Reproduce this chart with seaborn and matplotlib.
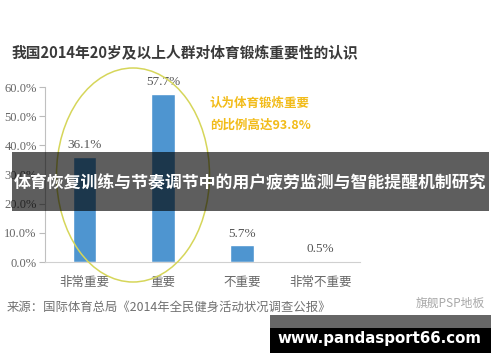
import matplotlib
matplotlib.use("Agg")
import matplotlib.pyplot as plt
import seaborn as sns
import pandas as pd
from matplotlib.patches import Ellipse, Rectangle

categories = ['非常重要', '重要', '不重要', '非常不重要']
values = [36.1, 57.7, 5.7, 0.5]
yticks = [0, 10, 20, 30, 40, 50, 60]
title = '我国2014年20岁及以上人群对体育锻炼重要性的认识'
note_lines = ['认为体育锻炼重要', '的比例高达93.8%']
banner = '体育恢复训练与节奏调节中的用户疲劳监测与智能提醒机制研究'
source = '来源：国际体育总局《2014年全民健身活动状况调查公报》'
watermark = '旗舰PSP地板'
site = 'www.pandasport66.com'

sns.set_style('white')
plt.rcParams['font.family'] = ['Noto Sans CJK SC', 'DejaVu Sans']

df = pd.DataFrame({'cat': categories, 'val': values})

fig = plt.figure(figsize=(5, 3.62), dpi=100)
fig.patch.set_facecolor('white')
ax = fig.add_axes([0.09, 0.2762, 0.63, 0.4834])
sns.barplot(data=df, x='cat', y='val', color='#4e95d0', saturation=1, width=0.3, ax=ax)
ax.set_ylim(0, 60)
ax.set_xlim(-0.5, 3.5)
ax.set_yticks(yticks)
ax.set_yticklabels([f'{v:.1f}%' for v in yticks], family=['Liberation Serif'], fontsize=9, color='#666666')
ax.set_xlabel('')
ax.set_ylabel('')
ax.tick_params(axis='x', length=0, pad=10, labelsize=9, labelcolor='#666666')
ax.tick_params(axis='y', left=True, length=4, width=0.8, color='#bbbbbb', pad=2)
for s in ['top', 'right']:
    ax.spines[s].set_visible(False)
ax.spines['left'].set_color('#c0c0c0')
ax.spines['bottom'].set_color('#d0d0d0')
ax.spines['left'].set_linewidth(0.8)
ax.spines['bottom'].set_linewidth(0.8)

for i, v in enumerate(values):
    ax.annotate(f'{v}%', (i, v), xytext=(0, 4), textcoords='offset points',
                ha='center', va='bottom', family=['Liberation Serif'], fontsize=9.5, color='#555555')

fig.text(0.024, 1 - 52 / 362, title, fontsize=10.6, weight='bold', color='#3a3a3a', va='center', ha='left')
fig.text(0.42, 1 - 103 / 362, note_lines[0], fontsize=9, weight='bold', color='#f2bc1a', va='center', ha='left')
fig.text(0.42, 1 - 125 / 362, note_lines[1], fontsize=9, weight='bold', color='#f2bc1a', va='center', ha='left')

fig.add_artist(Ellipse((133 / 500, 1 - 175 / 362), 153 / 500, 214 / 362, transform=fig.transFigure,
                       fill=False, edgecolor='#d6d65a', linewidth=1.1, zorder=3))

fig.add_artist(Rectangle((12 / 500, 1 - 211 / 362), 477 / 500, 59 / 362, transform=fig.transFigure,
                         facecolor='black', alpha=0.63, edgecolor='none', zorder=5))
fig.text(0.5, 1 - 183 / 362, banner, fontsize=12.2, weight='bold', color='white', ha='center', va='center', zorder=6)

fig.text(7 / 500, 1 - 307 / 362, source, fontsize=8.9, color='#707070', ha='left', va='center')
fig.text(485 / 500, 1 - 303 / 362, watermark, fontsize=8.5, color='#a8a8a8', ha='right', va='center')

fig.add_artist(Rectangle((270 / 500, 1 - 328 / 362), 221 / 500, 13 / 362, transform=fig.transFigure,
                         facecolor='black', alpha=0.6, edgecolor='none', zorder=5))
fig.add_artist(Rectangle((270 / 500, 1 - 353 / 362), 221 / 500, 25 / 362, transform=fig.transFigure,
                         facecolor='black', edgecolor='none', zorder=5))
fig.text(379 / 500, 1 - 338 / 362, site, fontsize=10.8, weight='bold', color='white', family=['DejaVu Sans'],
         ha='center', va='center', zorder=6)

fig.savefig('out.png', dpi=100, facecolor='white')
